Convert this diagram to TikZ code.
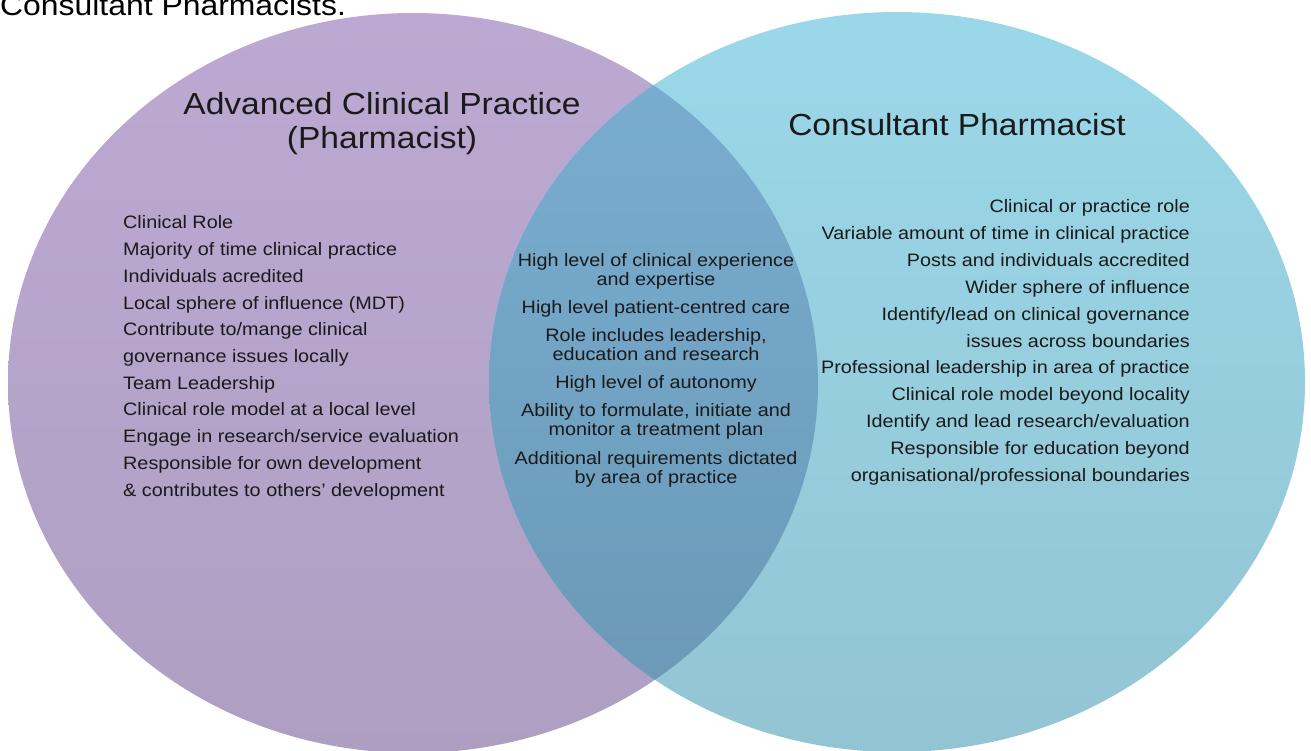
\documentclass[tikz,border=0pt]{standalone}
\usepackage{fontspec}
\setmainfont{Liberation Sans}[FakeStretch=1.1]
\definecolor{purpTop}{HTML}{BCA9D3}
\definecolor{purpBot}{HTML}{AE9FC2}
\definecolor{blueTop}{HTML}{9AD8E9}
\definecolor{blueBot}{HTML}{93C4D3}
\definecolor{overTop}{HTML}{7AAFD3}
\definecolor{overBot}{HTML}{6A97B4}
\definecolor{txt}{HTML}{1A1A1A}
\begin{document}
\begin{tikzpicture}[x=1pt,y=-1pt,
  body/.style={font=\fontsize{18}{20}\selectfont, inner sep=0, text=txt},
  title/.style={font=\fontsize{30.5}{33}\selectfont, inner sep=0, text=txt},
  captext/.style={font=\fontsize{29}{32}\selectfont, inner sep=0, text=black}]
\useasboundingbox (0,0) rectangle (1311,751);
% circles
\shade[top color=purpTop, bottom color=purpBot] (413,383) ellipse [x radius=405, y radius=370];
\shade[top color=blueTop, bottom color=blueBot] (897,382) ellipse [x radius=408, y radius=370];
\begin{scope}
  \clip (413,383) ellipse [x radius=405, y radius=370];
  \shade[top color=overTop, bottom color=overBot] (897,382) ellipse [x radius=408, y radius=370];
\end{scope}
% caption cut at top
\node[captext, anchor=base west] (cap) at (0,16) {Consultant Pharmacists.};
% titles
\node[title, anchor=base] (tA1) at (382,115) {Advanced Clinical Practice};
\node[title, anchor=base] (tA2) at (382,149) {(Pharmacist)};
\node[title, anchor=base] (tC) at (957,136) {Consultant Pharmacist};
% left column
\foreach \t [count=\i from 0] in {Clinical Role, Majority of time clinical practice, Individuals acredited, Local sphere of influence (MDT), Contribute to/mange clinical, governance issues locally, Team Leadership, Clinical role model at a local level, Engage in research/service evaluation, Responsible for own development, \& contributes to others' development}
  \node[body, anchor=base west] (L\i) at (123,{229+26.7*\i}) {\t};
% right column
\foreach \t [count=\i from 0] in {Clinical or practice role, Variable amount of time in clinical practice, Posts and individuals accredited, Wider sphere of influence, Identify/lead on clinical governance, issues across boundaries, Professional leadership in area of practice, Clinical role model beyond locality, Identify and lead research/evaluation, Responsible for education beyond, organisational/professional boundaries}
  \node[body, anchor=base east] (R\i) at (1190,{213+26.8*\i}) {\t};
% centre column
\foreach \t/\y [count=\i] in {High level of clinical experience/266, and expertise/285.5, High level patient-centred care/313, {Role includes leadership,}/341, education and research/360.5, High level of autonomy/388, {Ability to formulate, initiate and}/416, monitor a treatment plan/435.5, Additional requirements dictated/464, by area of practice/483.5}
  \node[body, anchor=base] (C\i) at (656,\y) {\t};
\end{tikzpicture}
\end{document}
